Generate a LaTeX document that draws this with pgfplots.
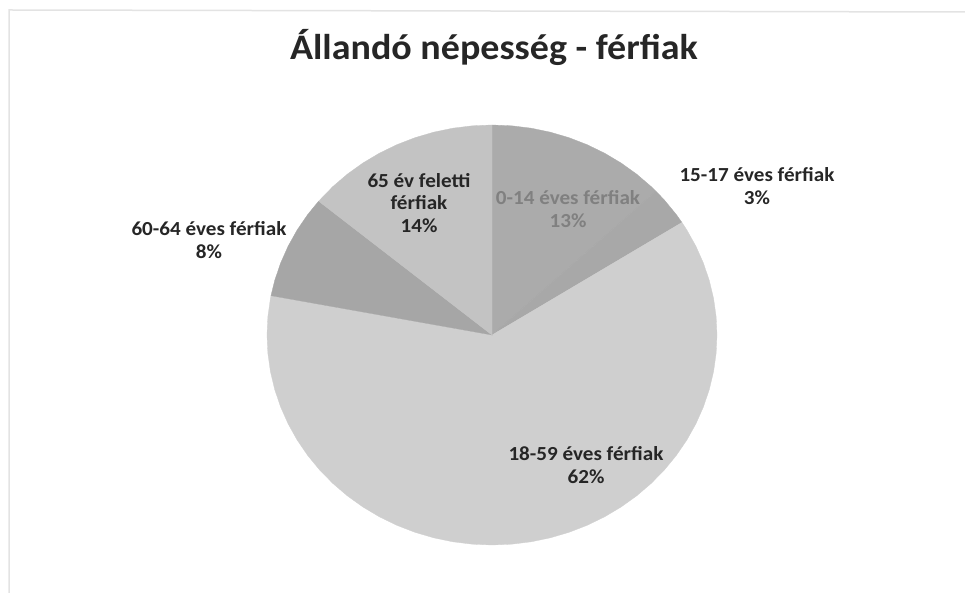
\documentclass[border=0pt]{standalone}
\usepackage{fontspec}
\setmainfont{Carlito}
\usepackage{pgfplots}
\usepgfplotslibrary{polar}
\pgfplotsset{compat=1.18}
\definecolor{cA}{HTML}{ABABAB}
\definecolor{cB}{HTML}{A8A8A8}
\definecolor{cC}{HTML}{CFCFCF}
\definecolor{cD}{HTML}{A6A6A6}
\definecolor{cE}{HTML}{C3C3C3}
\definecolor{frame}{HTML}{E3E3E3}
\definecolor{lbl}{HTML}{262626}
\begin{document}
\begin{tikzpicture}
\useasboundingbox (0bp,0bp) rectangle (965bp,593bp);
\draw[color=frame, line width=1.5bp] (9bp,0bp) -- (9bp,583bp) -- (965bp,581bp);
\node[font=\fontsize{36}{42}\selectfont\bfseries, text=lbl, xscale=1.06] at (494bp,546bp) {Állandó népesség - férfiak};
\begin{axis}[at={(492bp,258bp)}, anchor=center, scale only axis,
  width=450bp, height=420bp, xmin=-1, xmax=1, ymin=-1, ymax=1,
  hide axis, clip=false]
% 0-14 eves: 13%
\addplot[data cs=polar, fill=cA, draw=cA, line width=0.3pt] coordinates {(0,0) (90,1) (85,1) (80,1) (75,1) (70,1) (65,1) (60,1) (55,1) (50,1) (45,1) (43.2,1) (0,0)} -- cycle;
% 15-17 eves: 3%
\addplot[data cs=polar, fill=cB, draw=cB, line width=0.3pt] coordinates {(0,0) (43.2,1) (40,1) (35,1) (32.4,1) (0,0)} -- cycle;
% 18-59 eves: 62%
\addplot[data cs=polar, fill=cC, draw=cC, line width=0.3pt] coordinates {(0,0) (32.4,1) (30,1) (25,1) (20,1) (15,1) (10,1) (5,1) (0,1) (-5,1) (-10,1) (-15,1) (-20,1) (-25,1) (-30,1) (-35,1) (-40,1) (-45,1) (-50,1) (-55,1) (-60,1) (-65,1) (-70,1) (-75,1) (-80,1) (-85,1) (-90,1) (-95,1) (-100,1) (-105,1) (-110,1) (-115,1) (-120,1) (-125,1) (-130,1) (-135,1) (-140,1) (-145,1) (-150,1) (-155,1) (-160,1) (-165,1) (-170,1) (-175,1) (-180,1) (-185,1) (-190,1) (-190.8,1) (0,0)} -- cycle;
% 60-64 eves: 8%
\addplot[data cs=polar, fill=cD, draw=cD, line width=0.3pt] coordinates {(0,0) (169.2,1) (165,1) (160,1) (155,1) (150,1) (145,1) (140.4,1) (0,0)} -- cycle;
% 65 ev feletti: 14%
\addplot[data cs=polar, fill=cE, draw=cE, line width=0.3pt] coordinates {(0,0) (140.4,1) (135,1) (130,1) (125,1) (120,1) (115,1) (110,1) (105,1) (100,1) (95,1) (90,1) (0,0)} -- cycle;
\end{axis}
\begin{scope}[every node/.style={align=center, font=\fontsize{20}{23}\selectfont\bfseries, text=lbl, xscale=1.06}]
\node[text=black!50] at (568bp,384bp) {0-14 éves férfiak\\13\%};
\node at (757bp,407bp) {15-17 éves férfiak\\3\%};
\node at (586bp,128bp) {18-59 éves férfiak\\62\%};
\node at (209bp,353bp) {60-64 éves férfiak\\8\%};
\node at (419bp,390bp) {65 év feletti\\férfiak\\14\%};
\end{scope}
\end{tikzpicture}
\end{document}
